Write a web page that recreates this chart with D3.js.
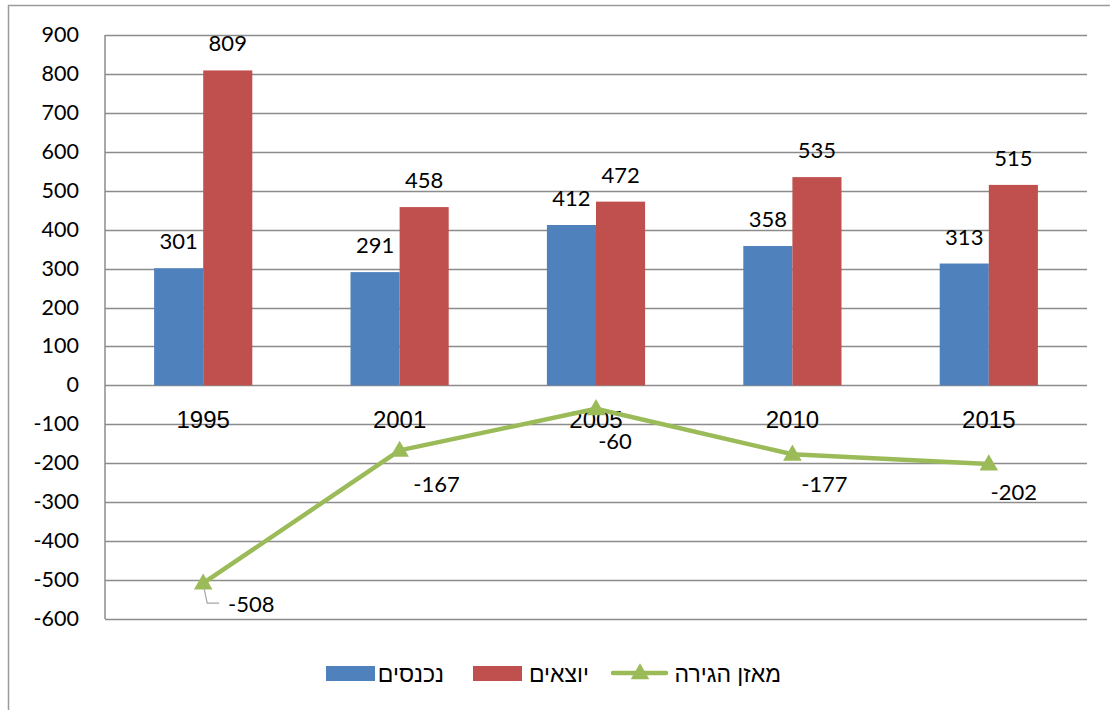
<!DOCTYPE html>
<html lang="he">
<head>
<meta charset="UTF-8">
<title>Migration chart</title>
<script src="https://d3js.org/d3.v7.min.js"></script>
<style>
  body { margin: 0; background: #fff; }
  svg { display: block; }
</style>
</head>
<body>
<svg width="1110" height="710"></svg>
<script>
const years = ["1995", "2001", "2005", "2010", "2015"];
const incoming = [301, 291, 412, 358, 313];   // נכנסים
const outgoing = [809, 458, 472, 535, 515];   // יוצאים
const balance = [-508, -167, -60, -177, -202]; // מאזן הגירה
const yTicks = [900, 800, 700, 600, 500, 400, 300, 200, 100, 0, -100, -200, -300, -400, -500, -600];
const seriesNames = ["נכנסים", "יוצאים", "מאזן הגירה"];

const blue = "#4F81BD", red = "#C0504D", green = "#9BBB59", grid = "#8c8c8c";
const numFont = "Lato, 'Liberation Sans', sans-serif";

const svg = d3.select("svg");

// outer chart frame (runs off the right and bottom edge)
svg.append("rect")
  .attr("x", 8.5).attr("y", 5.5).attr("width", 1200).attr("height", 800)
  .attr("fill", "none").attr("stroke", "#9a9a9a").attr("stroke-width", 1.5);

const x = d3.scaleBand().domain(years).range([105, 1087]);
const y = d3.scaleLinear().domain([-600, 900]).range([619, 35]);
const barW = x.bandwidth() / 4;

// gridlines
svg.append("g").selectAll("line")
  .data(yTicks)
  .enter().append("line")
  .attr("x1", 105).attr("x2", 1087)
  .attr("y1", d => Math.round(y(d)) + 0.5).attr("y2", d => Math.round(y(d)) + 0.5)
  .attr("stroke", grid).attr("stroke-width", 1.5);

// vertical axis line
svg.append("line")
  .attr("x1", 105).attr("x2", 105).attr("y1", y(900)).attr("y2", y(-600))
  .attr("stroke", grid).attr("stroke-width", 1.5);

// y tick labels
svg.append("g").selectAll("text")
  .data(yTicks)
  .enter().append("text")
  .attr("x", 79).attr("y", d => y(d) + 7)
  .attr("text-anchor", "end")
  .attr("font-family", numFont).attr("font-size", 21.5)
  .text(d => d);

// bars
const bars = svg.append("g");
bars.selectAll("rect.in")
  .data(incoming)
  .enter().append("rect")
  .attr("x", (d, i) => x(years[i]) + x.bandwidth() / 2 - barW)
  .attr("y", d => y(d)).attr("width", barW).attr("height", d => y(0) - y(d))
  .attr("fill", blue);
bars.selectAll("rect.out")
  .data(outgoing)
  .enter().append("rect")
  .attr("x", (d, i) => x(years[i]) + x.bandwidth() / 2)
  .attr("y", d => y(d)).attr("width", barW).attr("height", d => y(0) - y(d))
  .attr("fill", red);

// bar labels
const lbl = svg.append("g")
  .attr("font-family", numFont).attr("font-size", 22).attr("text-anchor", "middle");
lbl.selectAll("text.in")
  .data(incoming)
  .enter().append("text")
  .attr("x", (d, i) => x(years[i]) + x.bandwidth() / 2 - barW / 2)
  .attr("y", d => y(d) - 19)
  .text(d => d);
lbl.selectAll("text.out")
  .data(outgoing)
  .enter().append("text")
  .attr("x", (d, i) => x(years[i]) + x.bandwidth() / 2 + barW / 2)
  .attr("y", d => y(d) - 19)
  .text(d => d);

// category labels
svg.append("g").selectAll("text")
  .data(years)
  .enter().append("text")
  .attr("x", d => x(d) + x.bandwidth() / 2)
  .attr("y", y(0) + 43)
  .attr("text-anchor", "middle")
  .attr("font-family", "'Liberation Sans', Arial, sans-serif").attr("font-size", 24)
  .text(d => d);

// balance line
const cx = i => x(years[i]) + x.bandwidth() / 2;
svg.append("path")
  .datum(balance)
  .attr("d", d3.line().x((d, i) => cx(i)).y(d => y(d)))
  .attr("fill", "none").attr("stroke", green).attr("stroke-width", 4.5)
  .attr("stroke-linejoin", "round");

const tri = d3.symbol().type(d3.symbolTriangle).size(150);
svg.append("g").selectAll("path")
  .data(balance)
  .enter().append("path")
  .attr("d", tri)
  .attr("transform", (d, i) => `translate(${cx(i)},${y(d) + 1})`)
  .attr("fill", green);

// leader line for first point label
svg.append("polyline")
  .attr("points", `${cx(0) + 1},${y(balance[0]) + 6} ${cx(0) + 4},${y(balance[0]) + 20} ${cx(0) + 16},${y(balance[0]) + 20}`)
  .attr("fill", "none").attr("stroke", "#a6a6a6").attr("stroke-width", 1.2);

// balance labels (offsets as placed in the original)
const balOff = [[48, 29], [37, 42], [19, 40], [32, 38], [25, 36]];
svg.append("g").selectAll("text")
  .data(balance)
  .enter().append("text")
  .attr("x", (d, i) => cx(i) + balOff[i][0])
  .attr("y", (d, i) => y(d) + balOff[i][1])
  .attr("text-anchor", "middle")
  .attr("font-family", numFont).attr("font-size", 22)
  .text(d => d);

// legend
const leg = svg.append("g").attr("font-family", "'Liberation Sans', 'DejaVu Sans', sans-serif").attr("font-size", 23);
leg.append("rect").attr("x", 326).attr("y", 666).attr("width", 49).attr("height", 15).attr("fill", blue);
leg.append("text").attr("x", 444).attr("y", 682).attr("text-anchor", "end").text(seriesNames[0]);
leg.append("rect").attr("x", 473).attr("y", 666).attr("width", 49).attr("height", 15).attr("fill", red);
leg.append("text").attr("x", 589).attr("y", 682).attr("text-anchor", "end").text(seriesNames[1]);
leg.append("line").attr("x1", 613).attr("x2", 666).attr("y1", 673).attr("y2", 673)
  .attr("stroke", green).attr("stroke-width", 4.5).attr("stroke-linecap", "round");
leg.append("path").attr("d", tri).attr("transform", "translate(640,674)").attr("fill", green);
leg.append("text").attr("x", 781).attr("y", 682).attr("text-anchor", "end").text(seriesNames[2]);
</script>
</body>
</html>
